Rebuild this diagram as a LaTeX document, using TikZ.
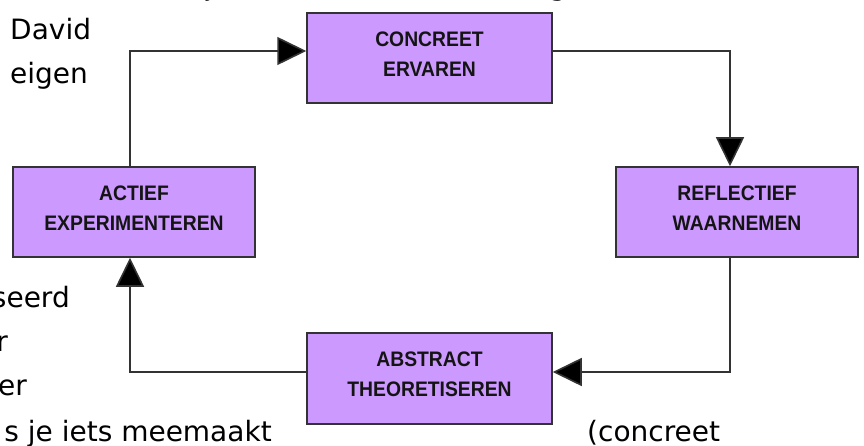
\documentclass[tikz,border=0pt]{standalone}
\usepackage{fontspec}
\setmainfont{DejaVu Sans}
\newfontfamily\boxfont{Liberation Sans}
\usetikzlibrary{arrows.meta}
\definecolor{boxfill}{RGB}{204,153,255}
\definecolor{edge}{RGB}{51,51,51}
\definecolor{ink}{RGB}{20,20,20}
\newcommand{\cond}[1]{\scalebox{0.92}[1.0]{#1}}
\begin{document}
\begin{tikzpicture}[x=1pt,y=-1pt,
  stagebox/.style={draw=edge, line width=1.5pt, fill=boxfill, inner sep=0pt},
  boxtext/.style={font=\boxfont\bfseries\fontsize{21}{30}\selectfont, text=ink, align=center},
  conn/.style={draw=edge, line width=1.6pt, -{Triangle[length=29pt,width=28pt,fill=black]}},
  body/.style={font=\fontsize{28}{34}\selectfont, text=black, inner sep=0pt}
]
\useasboundingbox (0,0) rectangle (864,446);
\clip (0,0) rectangle (864,446);
\fill[white] (0,0) rectangle (864,446);

% stage boxes
\node[stagebox, minimum width=245pt, minimum height=90pt,
  label={[boxtext, yshift=4pt]center:\cond{CONCREET}\\\cond{ERVAREN}}] (con) at (429.5,58) {};
\node[stagebox, minimum width=242pt, minimum height=90pt,
  label={[boxtext, yshift=4pt]center:\cond{REFLECTIEF}\\\cond{WAARNEMEN}}] (ref) at (737,212) {};
\node[stagebox, minimum width=245pt, minimum height=91pt,
  label={[boxtext, yshift=4pt]center:\cond{ABSTRACT}\\\cond{THEORETISEREN}}] (abs) at (429.5,378.5) {};
\node[stagebox, minimum width=242pt, minimum height=90pt,
  label={[boxtext, yshift=4pt]center:\cond{ACTIEF}\\\cond{EXPERIMENTEREN}}] (act) at (134,212) {};

% routing guides
\coordinate (L) at (130,0);
\coordinate (R) at (730,0);
\coordinate (T) at (0,51);
\coordinate (B) at (0,372);

% connectors
\draw[conn] (act.north -| L) |- (con.west |- T);
\draw[conn] (con.east |- T) -| (ref.north -| R);
\draw[conn] (ref.south -| R) |- (abs.east |- B);
\draw[conn] (abs.west |- B) -| (act.south -| L);

% surrounding text fragments
\node[body, anchor=base] (tj) at (210,-4) {j};
\node[body, anchor=base] (tg) at (558,-4) {g};
\node[body, anchor=base west] (t1) at (10,40) {David};
\node[body, anchor=base west] (t2) at (10,84) {eigen};
\node[body, anchor=base east] (t3) at (70,307) {seerd};
\node[body, anchor=base east] (t4) at (8,351) {r};
\node[body, anchor=base east] (t5) at (27,395) {er};
\node[body, anchor=base east] (t6) at (272,441) {s je iets meemaakt};
\node[body, anchor=base west] (t7) at (587,441) {(concreet};
\end{tikzpicture}
\end{document}
